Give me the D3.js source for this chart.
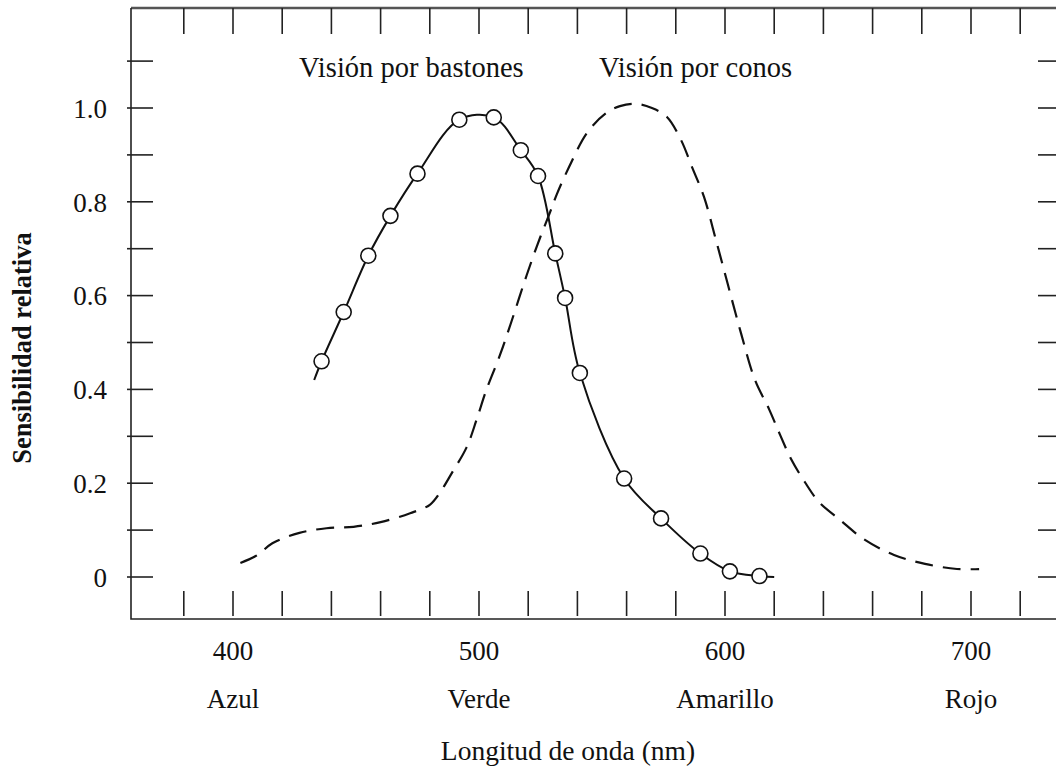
<!DOCTYPE html>
<html>
<head>
<meta charset="utf-8">
<script src="https://cdn.jsdelivr.net/npm/d3@7"></script>
<style>
  body { margin: 0; background: #fff; }
  text { font-family: "Liberation Serif", "Times New Roman", serif; fill: #111; }
</style>
</head>
<body>
<svg id="chart" width="1056" height="774"></svg>
<script>
// Wavelength ticks (nm) and labelled positions
const wavelengthTicks = d3.range(380, 721, 20);
const wavelengthLabels = [400, 500, 600, 700];
const colourNames = ["Azul", "Verde", "Amarillo", "Rojo"];

// Relative sensitivity ticks
const sensitivityTicks = d3.range(0, 11.5, 1).map(d => d / 10);
const sensitivityLabels = [0, 0.2, 0.4, 0.6, 0.8, 1.0];

// Rod (scotopic) measurements, drawn as open circles
const rodWavelength  = [436, 445, 455, 464, 475, 492, 506, 517, 524, 531, 535, 541, 559, 574, 590, 602, 614];
const rodSensitivity = [0.46, 0.565, 0.685, 0.77, 0.86, 0.975, 0.98, 0.91, 0.855, 0.69, 0.595, 0.435, 0.21, 0.125, 0.05, 0.012, 0.002];

// Fitted rod curve ends
const rodCurveStart = [433, 0.42];
const rodCurveEnd   = [620, 0.0];

// Cone (photopic) sensitivity curve
const coneWavelength  = [403, 410, 416, 427, 438, 449, 460, 472, 480, 484, 489, 495, 499, 503, 508.5, 513.4, 518.7, 524, 528.9, 531.7, 536.6, 543.9, 551.6, 557.3, 563.8, 570.3, 576.4, 582.1, 586.6, 591.5, 596.3, 601.2, 606.5, 612.2, 617.9, 622.4, 626.8, 632.5, 638.2, 646.7, 656.9, 668.7, 681.3, 694.3, 703.3];
const coneSensitivity = [0.030, 0.047, 0.072, 0.094, 0.104, 0.107, 0.117, 0.136, 0.154, 0.179, 0.222, 0.277, 0.335, 0.399, 0.473, 0.548, 0.633, 0.712, 0.778, 0.817, 0.874, 0.947, 0.989, 1.004, 1.009, 1.000, 0.981, 0.932, 0.874, 0.810, 0.719, 0.623, 0.520, 0.420, 0.358, 0.303, 0.252, 0.202, 0.160, 0.122, 0.079, 0.047, 0.028, 0.017, 0.017];

const svg = d3.select("#chart");

// Plot frame
const frame = { left: 131, top: 8, right: 1061, bottom: 619 };

const x = d3.scaleLinear().domain([400, 700]).range([233, 971]);
const y = d3.scaleLinear().domain([0, 1]).range([577, 108]);

// Frame edges
svg.append("line")
  .attr("x1", frame.left).attr("x2", frame.right)
  .attr("y1", frame.top).attr("y2", frame.top)
  .attr("stroke", "#555").attr("stroke-width", 2.4);
svg.append("path")
  .attr("d", `M${frame.left},${frame.top}V${frame.bottom}H${frame.right}V${frame.top}`)
  .attr("fill", "none").attr("stroke", "#222").attr("stroke-width", 1.6);

// Wavelength ticks along the top and bottom edges, pointing inward
const xTicks = svg.append("g").attr("stroke", "#222").attr("stroke-width", 1.6);
xTicks.selectAll("line.top").data(wavelengthTicks).join("line")
  .attr("class", "top")
  .attr("x1", d => x(d)).attr("x2", d => x(d))
  .attr("y1", frame.top).attr("y2", frame.top + 26);
xTicks.selectAll("line.bottom").data(wavelengthTicks).join("line")
  .attr("class", "bottom")
  .attr("x1", d => x(d)).attr("x2", d => x(d))
  .attr("y1", frame.bottom - 3).attr("y2", frame.bottom - 28);

// Sensitivity ticks on both sides, crossing the frame
const yTicks = svg.append("g").attr("stroke", "#222").attr("stroke-width", 1.6);
yTicks.selectAll("line.left").data(sensitivityTicks).join("line")
  .attr("class", "left")
  .attr("x1", frame.left - 4).attr("x2", frame.left + 22)
  .attr("y1", d => y(d)).attr("y2", d => y(d));
yTicks.selectAll("line.right").data(sensitivityTicks).join("line")
  .attr("class", "right")
  .attr("x1", frame.right - 23).attr("x2", frame.right + 4)
  .attr("y1", d => y(d)).attr("y2", d => y(d));

// Sensitivity labels
svg.append("g").selectAll("text").data(sensitivityLabels).join("text")
  .attr("x", 107).attr("y", d => y(d)).attr("dy", "0.36em")
  .attr("text-anchor", "end").attr("font-size", 27)
  .text(d => d === 0 ? "0" : d.toFixed(1));

// Wavelength labels and colour names
svg.append("g").selectAll("text").data(wavelengthLabels).join("text")
  .attr("x", d => x(d)).attr("y", 660)
  .attr("text-anchor", "middle").attr("font-size", 27)
  .text(d => d);
svg.append("g").selectAll("text").data(colourNames).join("text")
  .attr("x", (d, i) => x(wavelengthLabels[i])).attr("y", 708)
  .attr("text-anchor", "middle").attr("font-size", 27)
  .text(d => d);

// Axis titles
svg.append("text")
  .attr("x", 568).attr("y", 760)
  .attr("text-anchor", "middle").attr("font-size", 27.5)
  .text("Longitud de onda (nm)");
svg.append("text")
  .attr("transform", "translate(31,348) rotate(-90)")
  .attr("text-anchor", "middle").attr("font-size", 26.5).attr("font-weight", "bold")
  .text("Sensibilidad relativa");

// Curve annotations
svg.append("text").attr("x", 299).attr("y", 77).attr("font-size", 28.5).text("Visión por bastones");
svg.append("text").attr("x", 599).attr("y", 77).attr("font-size", 28.5).text("Visión por conos");

// Cone curve (dashed)
const coneData = coneWavelength.map((w, i) => [w, coneSensitivity[i]]);
const line = d3.line().x(d => x(d[0])).y(d => y(d[1])).curve(d3.curveCatmullRom.alpha(0.5));
svg.append("path")
  .attr("d", line(coneData))
  .attr("fill", "none").attr("stroke", "#111").attr("stroke-width", 2.2)
  .attr("stroke-dasharray", "18,10");

// Rod curve (solid) through the measurements
const rodData = rodWavelength.map((w, i) => [w, rodSensitivity[i]]);
svg.append("path")
  .attr("d", line([rodCurveStart, ...rodData, rodCurveEnd]))
  .attr("fill", "none").attr("stroke", "#111").attr("stroke-width", 2);

svg.append("g").selectAll("circle").data(rodData).join("circle")
  .attr("cx", d => x(d[0])).attr("cy", d => y(d[1])).attr("r", 7.5)
  .attr("fill", "#fff").attr("stroke", "#111").attr("stroke-width", 1.6);
</script>
</body>
</html>
